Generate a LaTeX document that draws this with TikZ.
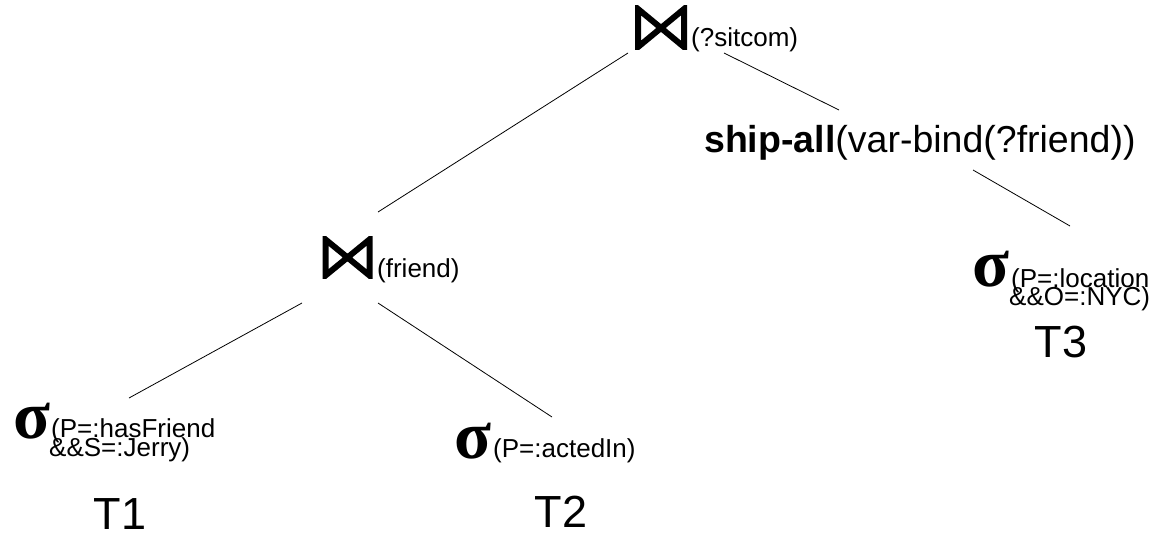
\documentclass[tikz,border=0pt]{standalone}
\usepackage{fontspec}
\setmainfont{Liberation Sans}
\newfontfamily\sigfont{Liberation Serif}
\begin{document}
\begin{tikzpicture}[x=1pt,y=-1pt,
  lbl/.style={inner sep=0pt, anchor=base west, font=\fontsize{26}{26}\selectfont},
  sub/.style={inner sep=0pt, anchor=base west, font=\fontsize{26}{26}\selectfont},
  big/.style={inner sep=0pt, anchor=base west, font=\fontsize{37.5}{37.5}\selectfont},
  sig/.style={inner sep=0pt, anchor=base west, font=\fontsize{68}{68}\sigfont\bfseries},
  tlabel/.style={inner sep=0pt, anchor=base, font=\fontsize{45}{45}\selectfont},
  joinbox/.style={inner sep=0pt, outer sep=0pt, draw=none},
  edge/.style={line width=0.8pt},
  bowtie/.style={line width=6pt, line join=miter, miter limit=10}]
\useasboundingbox (0,0) rectangle (1156,535);

% join nodes (bowtie symbols)
\node[joinbox, minimum width=52pt, minimum height=44pt] (j1) at (661,28) {};
\node[joinbox, minimum width=50pt, minimum height=42pt] (j2) at (347.5,257.5) {};
\foreach \j in {j1,j2}{
  \begin{scope}
    \clip (\j.north west) rectangle (\j.south east);
    \draw[bowtie] ([shift={(3,3)}]\j.north west) -- ([shift={(-3,-3)}]\j.south east)
      -- ([shift={(-3,3)}]\j.north east) -- ([shift={(3,-3)}]\j.south west) -- cycle;
  \end{scope}
}
\node[lbl] (l1) at (691,47) {(?sitcom)};
\node[lbl] (l2) at (377,277) {(friend)};

% ship-all
\node[big] (ship) at (704,152) {\textbf{ship-all}(var-bind(?friend))};

% selections
\node[sig] (s1) at (13,438) {σ};
\node[sub] (s1a) at (51,437) {(P=:hasFriend};
\node[sub] (s1b) at (49,456) {\&\&S=:Jerry)};
\node[tlabel] (t1) at (120,529) {T1};

\node[sig] (s2) at (454,458) {σ};
\node[sub] (s2a) at (493,457) {(P=:actedIn)};
\node[tlabel] (t2) at (561,527) {T2};

\node[sig] (s3) at (972,286) {σ};
\node[sub] (s3a) at (1011,287) {(P=:location};
\node[sub] (s3b) at (1009,305) {\&\&O=:NYC)};
\node[tlabel] (t3) at (1061,357) {T3};

% connector ends
\coordinate (j1L) at (628,53);
\coordinate (j2T) at (378,212);
\coordinate (j1R) at (724,53);
\coordinate (shipT) at (839,110);
\coordinate (shipB) at (973,170);
\coordinate (s3T) at (1070,226);
\coordinate (j2L) at (302,303);
\coordinate (s1T) at (129,398);
\coordinate (j2R) at (378,303);
\coordinate (s2T) at (552,417);

\draw[edge] (j1L) -- (j2T);
\draw[edge] (j1R) -- (shipT);
\draw[edge] (shipB) -- (s3T);
\draw[edge] (j2L) -- (s1T);
\draw[edge] (j2R) -- (s2T);
\end{tikzpicture}
\end{document}
